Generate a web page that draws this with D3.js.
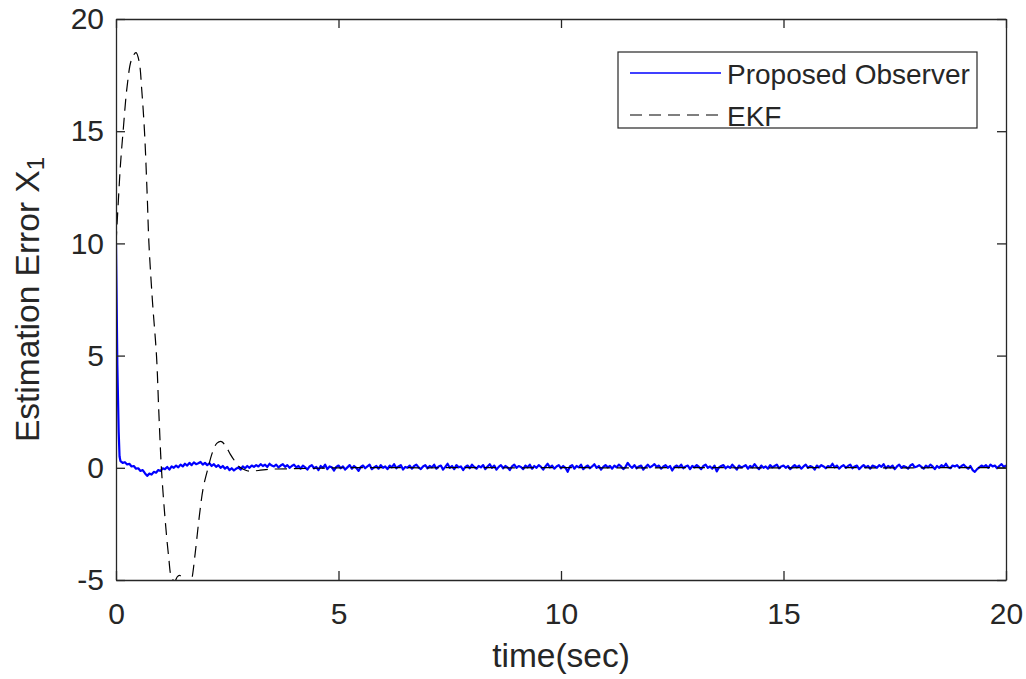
<!DOCTYPE html>
<html>
<head>
<meta charset="utf-8">
<script src="https://cdn.jsdelivr.net/npm/d3@7"></script>
<style>
  html, body { margin: 0; padding: 0; background: #fff; }
  svg { display: block; }
  text { font-family: "Liberation Sans", Arial, Helvetica, sans-serif; fill: #262626; }
</style>
</head>
<body>
<svg id="chart" width="1026" height="679"></svg>
<script>
// ---------------- data ----------------
const xTicks = [0, 5, 10, 15, 20];
const yTicks = [-5, 0, 5, 10, 15, 20];
const seriesNames = ["Proposed Observer", "EKF"];

// Proposed observer: initial drop (explicit times)
const obsHeadT = [0, 0.03, 0.06, 0.08];
const obsHeadV = [10, 4.6, 1.6, 0.5];
// Proposed observer: one value every 0.05 s from t = 0.10 to 20.00 (one row = 1 s)
const obsTailStart = 0.10;
const obsTailStep = 0.05;
const obsTailV = [
  0.30, 0.22, 0.25, 0.15, 0.18, 0.06, 0.08, -0.04, -0.02, -0.14, -0.10, -0.24, -0.36, -0.26, -0.30, -0.18, -0.22, -0.10, -0.14, -0.02,
  -0.06, 0.04, -0.08, 0.06, 0.00, 0.10, 0.02, 0.14, 0.06, 0.18, 0.10, 0.22, 0.12, 0.24, 0.16, 0.20, 0.26, 0.14, 0.22, 0.12,
  0.20, 0.08, 0.16, 0.04, 0.12, 0.00, 0.08, -0.04, 0.04, -0.10, -0.02, -0.12, -0.04, 0.02, -0.08, 0.06, -0.02, 0.08, 0.00, 0.10,
  0.04, 0.12, 0.06, 0.16, 0.08, 0.14, 0.04, 0.18, 0.10, 0.06, 0.14, 0.02, 0.10, 0.16, 0.04, 0.12, 0.00, 0.08, 0.14, 0.02,
  0.08, -0.04, 0.10, 0.02, -0.08, 0.06, 0.12, -0.02, 0.04, -0.10, 0.08, 0.00, 0.14, -0.06, 0.06, 0.02, -0.12, 0.04, 0.10, -0.02,
  0.06, -0.08, 0.02, 0.12, -0.04, 0.08, 0.00, -0.14, 0.04, 0.10, -0.02, 0.06, 0.14, -0.06, 0.02, 0.08, -0.04, 0.12, 0.00, 0.06,
  -0.06, 0.10, 0.02, 0.16, -0.02, 0.06, 0.12, -0.08, 0.04, 0.00, 0.10, -0.04, 0.08, 0.14, 0.02, -0.06, 0.06, 0.12, -0.02, 0.08,
  0.02, 0.14, -0.04, 0.06, 0.10, -0.08, 0.04, 0.18, 0.00, 0.08, -0.06, 0.12, 0.02, 0.06, -0.10, 0.04, 0.10, -0.02, 0.14, 0.04,
  -0.04, 0.08, 0.02, 0.12, -0.06, 0.06, 0.16, 0.00, 0.10, -0.08, 0.04, 0.12, -0.02, 0.08, 0.02, -0.10, 0.06, 0.14, 0.00, 0.08,
  0.04, -0.06, 0.10, 0.02, 0.14, -0.04, 0.08, 0.00, 0.12, 0.04, -0.08, 0.06, 0.18, 0.02, 0.10, -0.04, 0.06, 0.12, -0.02, 0.08,
  0.00, -0.18, 0.06, 0.12, -0.04, 0.08, 0.02, 0.14, -0.06, 0.04, 0.10, -0.02, 0.06, 0.16, 0.00, 0.08, -0.08, 0.04, 0.12, 0.02,
  0.08, -0.04, 0.10, 0.02, 0.14, 0.06, -0.06, 0.04, 0.22, 0.08, 0.00, 0.12, -0.02, 0.06, 0.10, -0.08, 0.04, 0.14, 0.02, 0.08,
  0.16, 0.04, 0.10, -0.04, 0.06, 0.12, 0.00, 0.08, -0.12, 0.04, 0.10, 0.02, 0.14, -0.02, 0.06, 0.10, -0.06, 0.08, 0.02, 0.12,
  0.04, -0.06, 0.08, 0.14, 0.00, 0.06, -0.04, 0.10, -0.16, 0.02, 0.08, 0.12, -0.02, 0.06, 0.00, 0.14, 0.04, -0.08, 0.10, 0.02,
  0.06, 0.12, -0.04, 0.08, 0.02, 0.16, 0.04, -0.06, 0.10, 0.00, 0.06, -0.04, 0.12, 0.02, 0.08, 0.14, -0.02, 0.06, 0.10, 0.00,
  0.08, -0.06, 0.04, 0.12, 0.02, 0.10, -0.04, 0.06, 0.14, 0.00, 0.08, 0.04, -0.08, 0.10, 0.02, 0.12, 0.06, -0.02, 0.08, 0.04,
  0.18, 0.02, 0.10, -0.04, 0.06, 0.12, 0.00, 0.08, 0.14, -0.02, 0.06, 0.10, -0.06, 0.04, 0.12, 0.02, 0.08, -0.04, 0.10, 0.06,
  0.00, 0.12, 0.04, 0.16, -0.02, 0.08, 0.02, 0.10, -0.06, 0.06, 0.14, 0.00, 0.08, 0.04, -0.04, 0.10, 0.16, 0.02, 0.06, 0.12,
  0.04, -0.04, 0.10, 0.02, 0.14, 0.06, -0.06, 0.08, 0.00, 0.12, 0.04, 0.18, 0.02, -0.02, 0.10, 0.06, 0.12, 0.00, 0.08, 0.14,
  0.04, -0.04, 0.08, -0.10, -0.18, -0.06, 0.02, 0.10, 0.04, 0.12, 0.00, 0.14, 0.06, 0.10, -0.02, 0.08, 0.16, 0.04, 0.10
];

// EKF
const ekfT = [0, 0.05, 0.1, 0.16, 0.25, 0.35, 0.45, 0.52, 0.58, 0.64, 0.7, 0.74, 0.82, 0.91, 0.96, 1.02, 1.1, 1.18, 1.25, 1.32, 1.38, 1.44, 1.5, 1.58, 1.65, 1.7, 1.78, 1.87, 1.96, 2.07, 2.17, 2.27, 2.37, 2.47, 2.57, 2.67, 2.77, 2.9, 3.0, 3.2, 3.5, 4.0, 4.5, 5.0, 6.0, 7.0, 8.0, 9.0, 10.0, 11.0, 12.0, 13.0, 14.0, 15.0, 16.0, 17.0, 18.0, 19.0, 20.0];
const ekfV = [10, 11.8, 13.5, 15, 17, 18.2, 18.5, 18.1, 16.8, 15, 12.2, 10, 7.4, 5, 2.6, 0, -2.2, -3.9, -4.9, -5.05, -4.85, -4.8, -4.95, -5.3, -5.3, -5, -3.8, -2.2, -0.9, 0, 0.7, 1.1, 1.17, 0.95, 0.6, 0.3, 0.05, -0.1, -0.15, -0.12, -0.06, -0.04, -0.02, 0, 0.01, 0, 0.01, 0, 0.01, 0, 0, 0.01, 0, 0, 0.01, 0, 0, 0.01, 0];

// ---------------- build ----------------
const obsData = obsHeadT.map((t, i) => ({t, v: obsHeadV[i]}))
  .concat(obsTailV.map((v, i) => ({t: obsTailStart + i * obsTailStep, v})));
const ekfData = ekfT.map((t, i) => ({t, v: ekfV[i]}));

const svg = d3.select("#chart");
const W = 1026, H = 679;
const m = {left: 116, right: 1006, top: 19, bottom: 580};
const axisColor = "#262626";
const fmt = d => String(d);

svg.append("rect").attr("width", W).attr("height", H).attr("fill", "#fff");

const x = d3.scaleLinear().domain([0, 20]).range([m.left, m.right]);
const y = d3.scaleLinear().domain([-5, 20]).range([m.bottom, m.top]);

svg.append("defs").append("clipPath").attr("id", "clip")
  .append("rect").attr("x", m.left).attr("y", m.top)
  .attr("width", m.right - m.left).attr("height", m.bottom - m.top);

const line = d3.line().x(d => x(d.t)).y(d => y(d.v));
const smooth = d3.line().x(d => x(d.t)).y(d => y(d.v)).curve(d3.curveCatmullRom.alpha(0.5));

const plot = svg.append("g").attr("clip-path", "url(#clip)");
plot.append("path").datum(obsData).attr("d", line)
  .attr("fill", "none").attr("stroke", "#0000ff").attr("stroke-width", 2.2)
  .attr("stroke-linejoin", "round");
plot.append("path").datum(ekfData).attr("d", smooth)
  .attr("fill", "none").attr("stroke", "#000").attr("stroke-width", 1.2)
  .attr("stroke-dasharray", "12,7");

// axes
function styleAxis(g) {
  g.select(".domain").attr("stroke", axisColor).attr("stroke-width", 1.3);
  g.selectAll(".tick line").attr("stroke", axisColor).attr("stroke-width", 1.3);
  g.selectAll(".tick text").attr("fill", axisColor)
    .style("font-family", '"Liberation Sans", Arial, sans-serif').style("font-size", "30px");
}
svg.append("g").attr("transform", `translate(0,${m.bottom})`)
  .call(d3.axisBottom(x).tickValues(xTicks).tickFormat(fmt).tickSizeInner(-9).tickSizeOuter(0).tickPadding(23))
  .call(styleAxis);
svg.append("g").attr("transform", `translate(0,${m.top})`)
  .call(d3.axisTop(x).tickValues(xTicks).tickFormat("").tickSizeInner(-9).tickSizeOuter(0))
  .call(styleAxis);
svg.append("g").attr("transform", `translate(${m.left},0)`)
  .call(d3.axisLeft(y).tickValues(yTicks).tickFormat(fmt).tickSizeInner(-9).tickSizeOuter(0).tickPadding(12))
  .call(styleAxis);
svg.append("g").attr("transform", `translate(${m.right},0)`)
  .call(d3.axisRight(y).tickValues(yTicks).tickFormat("").tickSizeInner(-9).tickSizeOuter(0))
  .call(styleAxis);

// axis labels
svg.append("text").attr("x", (m.left + m.right) / 2).attr("y", 667)
  .attr("text-anchor", "middle").style("font-size", "33.5px").text("time(sec)");

const yl = svg.append("text")
  .attr("transform", `translate(39,${(m.top + m.bottom) / 2}) rotate(-90)`)
  .attr("text-anchor", "middle").style("font-size", "33.5px");
yl.append("tspan").text("Estimation Error X");
yl.append("tspan").attr("baseline-shift", "-22%").style("font-size", "24px").text("1");

// legend
const lg = svg.append("g");
lg.append("rect").attr("x", 618).attr("y", 52).attr("width", 359).attr("height", 76)
  .attr("fill", "#fff").attr("stroke", axisColor).attr("stroke-width", 1.2);
const legendRows = [
  {name: seriesNames[0], color: "#0000ff", dash: null, width: 1.6, y: 73},
  {name: seriesNames[1], color: "#000", dash: "12,7", width: 1.2, y: 115}
];
legendRows.forEach(r => {
  lg.append("line").attr("x1", 630).attr("x2", 721).attr("y1", r.y).attr("y2", r.y)
    .attr("stroke", r.color).attr("stroke-width", r.width)
    .attr("stroke-dasharray", r.dash);
  lg.append("text").attr("x", 727).attr("y", r.y + 10.5)
    .style("font-size", "28px").attr("fill", "#000").text(r.name);
});
</script>
</body>
</html>
